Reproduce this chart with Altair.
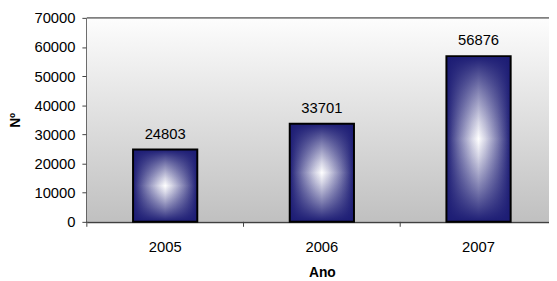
import altair as alt
import pandas as pd

years = ["2005", "2006", "2007"]
values = [24803, 33701, 56876]
y_ticks = [0, 10000, 20000, 30000, 40000, 50000, 60000, 70000]

df = pd.DataFrame({"year": years, "value": values})

NAVY = (28, 28, 116)
FONT = "Liberation Sans"

# navy fraction profile from edge (offset 0) to centre (offset 0.5)
profile = [(0.0, 1.0), (0.1, 0.78), (0.2, 0.57), (0.3, 0.37), (0.4, 0.17), (0.5, 0.0)]


def mix(f):
    r, g, b = (round(255 * (1 - f) + c * f) for c in NAVY)
    return f"rgb({r},{g},{b})"


def rgba(f):
    return f"rgba({NAVY[0]},{NAVY[1]},{NAVY[2]},{f})"


h_stops = [{"offset": o, "color": mix(f)} for o, f in profile] + \
          [{"offset": 1 - o, "color": mix(f)} for o, f in reversed(profile[:-1])]
v_stops = [{"offset": o, "color": rgba(f)} for o, f in profile] + \
          [{"offset": 1 - o, "color": rgba(f)} for o, f in reversed(profile[:-1])]

h_grad = alt.LinearGradient(gradient="linear", x1=0, y1=0.5, x2=1, y2=0.5, stops=h_stops)
v_grad = alt.LinearGradient(gradient="linear", x1=0.5, y1=0, x2=0.5, y2=1, stops=v_stops)

W, H = 469, 207
x_scale = alt.Scale(range=[0, 477], paddingInner=0, paddingOuter=0)
x_axis = alt.Axis(
    title="Ano", labelAngle=0, ticks=False, domainColor="#404040", domainWidth=2,
    labelFont=FONT, labelFontSize=15, labelColor="#000", labelBaseline="alphabetic",
    labelPadding=30, titleFont=FONT, titleFontSize=14, titleFontWeight="bold",
    titleColor="#000", titleBaseline="alphabetic", titleY=55,
)
y_axis = alt.Axis(
    title="Nº", values=y_ticks, grid=False, format="d", domainColor="#404040",
    domainWidth=2.5, tickColor="#404040", tickSize=5, labelPadding=7,
    labelFont=FONT, labelFontSize=15, labelColor="#000",
    titleFont=FONT, titleFontSize=14, titleFontWeight="bold", titleColor="#000",
    titleAngle=-90, titleAlign="center", titleBaseline="middle",
    titleX=-72, titleY=H / 2,
)
y_scale = alt.Scale(domain=[0, 70000], nice=False)

x_enc = alt.X("year:N", scale=x_scale, axis=x_axis)
y_enc = alt.Y("value:Q", scale=y_scale, axis=y_axis)

base = alt.Chart(df)

bg = alt.LinearGradient(
    gradient="linear", x1=0, y1=0, x2=0, y2=1,
    stops=[{"offset": 0, "color": "#fdfdfd"}, {"offset": 1, "color": "#c0c0c0"}],
)
background = alt.Chart(pd.DataFrame({"k": [0]})).mark_rect(color=bg).encode(
    x=alt.value(0), x2=alt.value(477), y=alt.value(0), y2=alt.value(H)
)
top_border = alt.Chart(pd.DataFrame({"k": [0]})).mark_rule(color="#808080", strokeWidth=2).encode(
    x=alt.value(0), x2=alt.value(477), y=alt.value(0)
)

bar_h = base.mark_bar(width=alt.RelativeBandSize(0.41), color=h_grad).encode(x=x_enc, y=y_enc)
bar_v = base.mark_bar(
    width=alt.RelativeBandSize(0.41), color=v_grad, stroke="#000", strokeWidth=2
).encode(x=x_enc, y=y_enc)
labels = base.mark_text(
    dy=-11, baseline="alphabetic", fontSize=15, font=FONT, color="#000"
).encode(x=x_enc, y=y_enc, text=alt.Text("value:Q", format="d"))
xticks = base.mark_rule(color="#404040", strokeWidth=1).encode(
    x=alt.X("year:N", scale=x_scale, axis=x_axis, bandPosition=0),
    y=alt.value(H), y2=alt.value(H + 5),
)

chart = (
    alt.layer(background, top_border, bar_h, bar_v, labels, xticks)
    .properties(
        width=W, height=H,
        autosize=alt.AutoSizeParams(type="none"),
        padding={"left": 80, "top": 8, "right": 0, "bottom": 58},
        background="#ffffff",
    )
    .configure_view(stroke=None)
)

chart.save("out.html", embed_options={"renderer": "svg", "actions": False})
